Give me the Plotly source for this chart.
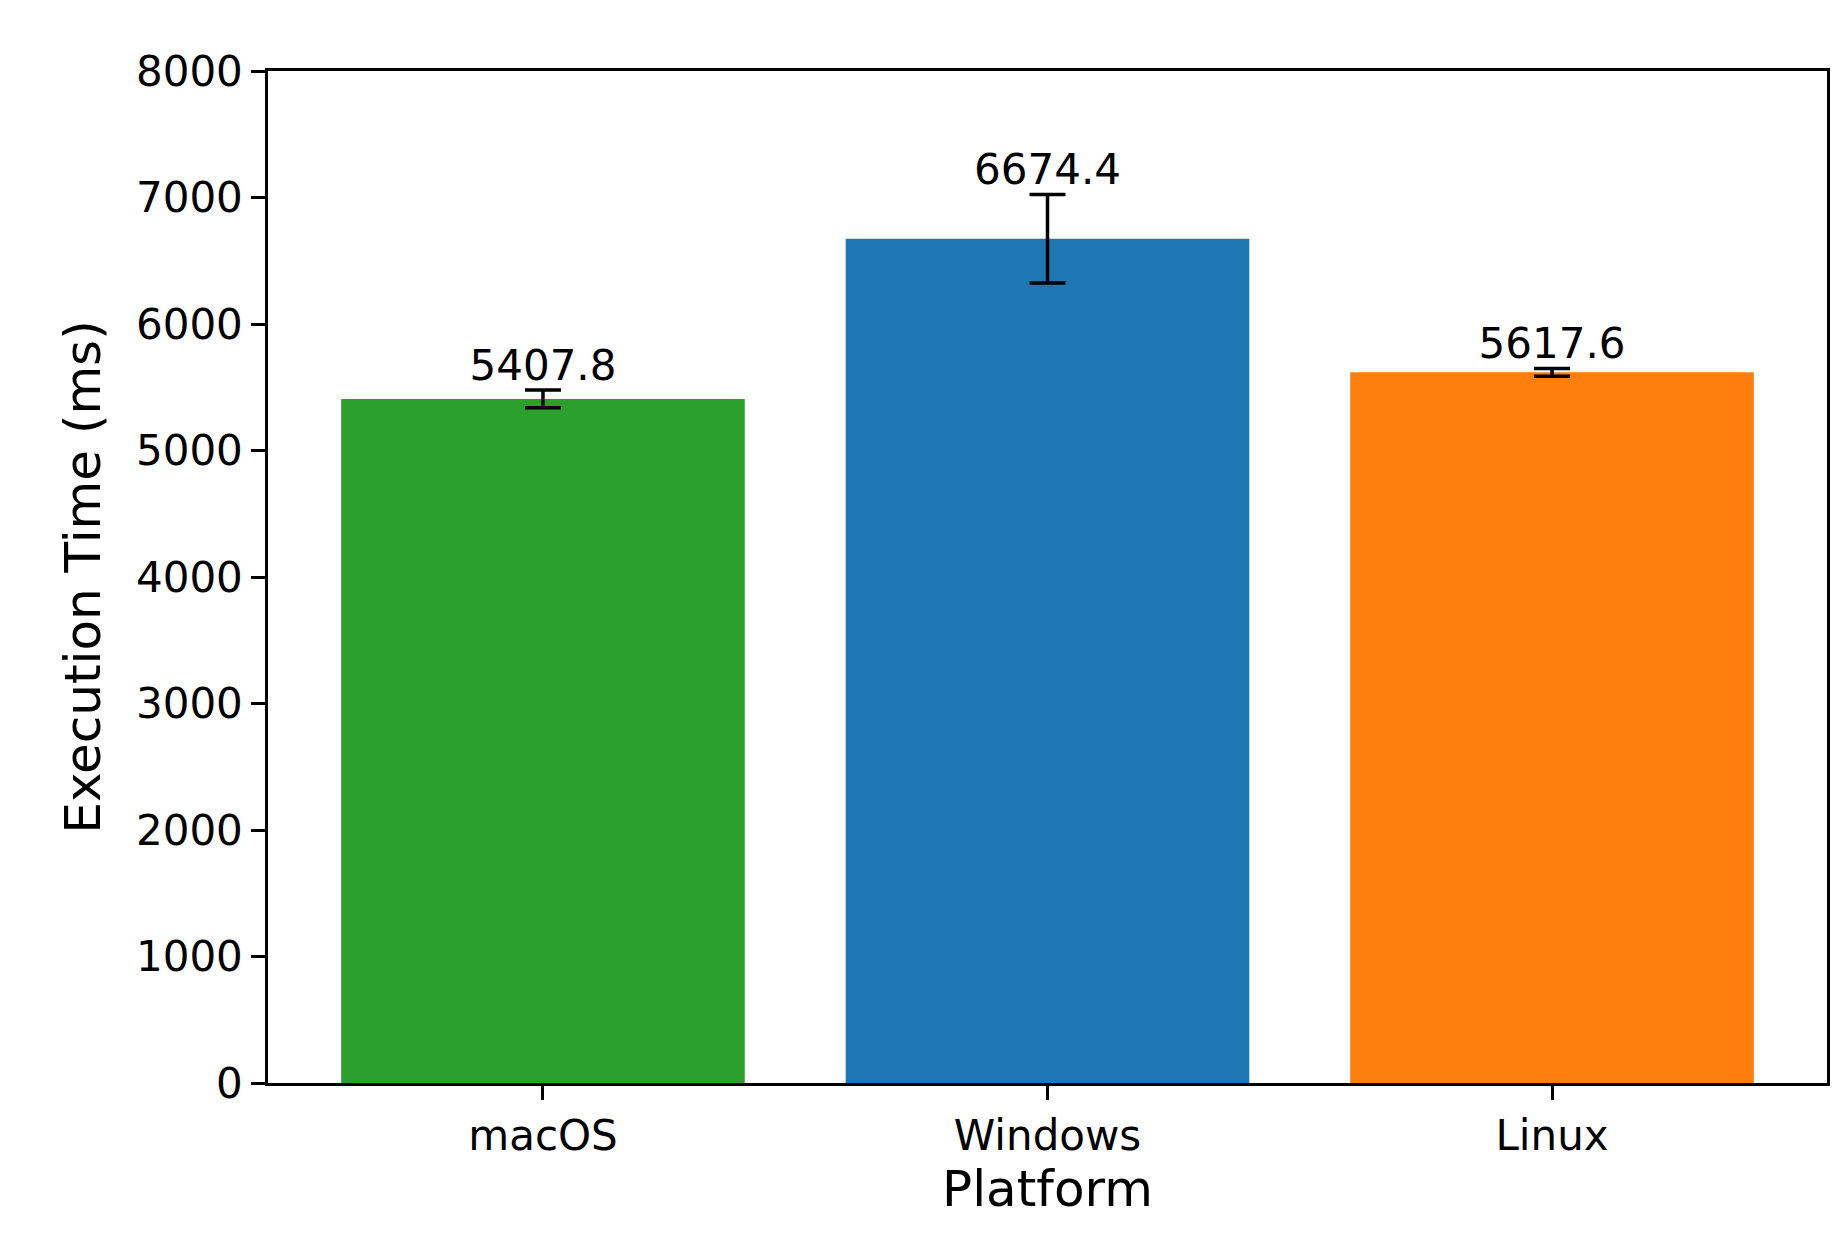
import plotly.graph_objects as go

platforms = ["macOS", "Windows", "Linux"]
exec_time = [5407.8, 6674.4, 5617.6]
errors = [70, 350, 30]
colors = ["#2ca02c", "#1f77b4", "#ff7f0e"]
labels = [f"{v:.1f}" for v in exec_time]

fig = go.Figure()
fig.add_trace(go.Bar(
    x=platforms, y=exec_time, width=0.8,
    marker=dict(color=colors, line=dict(width=0)),
    error_y=dict(type="data", array=errors, color="black", thickness=3.5, width=18),
))
# value labels above error bars
fig.add_trace(go.Scatter(
    x=platforms, y=[v + e for v, e in zip(exec_time, errors)],
    mode="text", text=labels, textposition="top center",
    textfont=dict(size=42, color="black"), showlegend=False,
))

axis_common = dict(showline=True, linecolor="black", linewidth=2.5, mirror=True,
                   ticks="outside", ticklen=14, tickwidth=2.5, tickcolor="black",
                   showgrid=False, zeroline=False,
                   tickfont=dict(size=42, color="black"))
fig.update_layout(
    width=1843, height=1239,
    margin=dict(l=260, r=24, t=63, b=164),
    plot_bgcolor="white", paper_bgcolor="white",
    font=dict(family="DejaVu Sans", size=42, color="black"),
    showlegend=False, bargap=0.2,
)
fig.update_xaxes(title_text="Platform", title_standoff=8, range=[-0.545, 2.545], **axis_common)
fig.update_yaxes(title_text="Execution Time (ms)", title_standoff=20, range=[0, 8000],
                 tickvals=list(range(0, 8001, 1000)), **axis_common)

fig.write_html("out.html")
